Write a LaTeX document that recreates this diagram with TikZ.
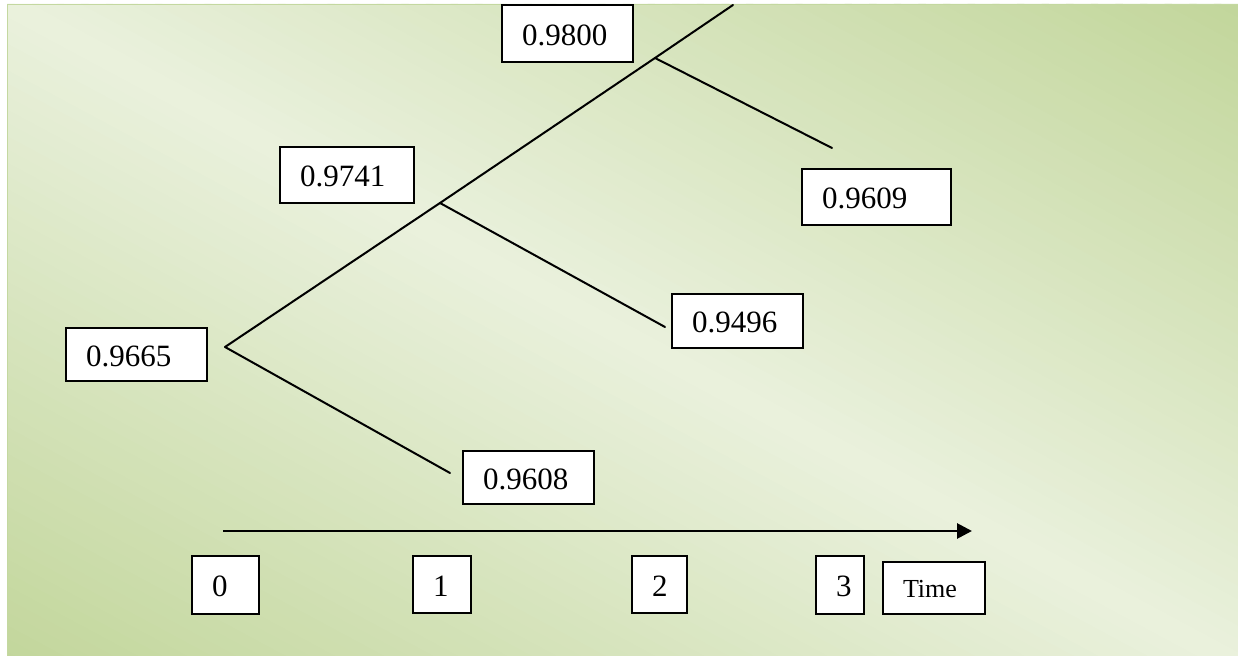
\documentclass[tikz,border=0pt]{standalone}
\usepackage{fontspec}
\setmainfont{Liberation Serif}
\usetikzlibrary{arrows.meta}
\definecolor{bgdark}{HTML}{C2D69B}
\definecolor{bglight}{HTML}{EAF1DD}
\definecolor{bgedge}{HTML}{C4D8A0}
\hfuzz=30pt
\hbadness=10000
\tikzset{
  valbox/.style={draw=black, fill=white, line width=0.85pt, anchor=north west,
    outer sep=0pt, inner xsep=10pt, inner ysep=0pt, align=left,
    text height=12pt, text depth=0pt,
    font=\fontsize{15.5}{18}\selectfont},
  timebox/.style={valbox, text height=10pt, font=\fontsize{13}{16}\selectfont},
  branch/.style={line width=1pt, line cap=round},
  axisline/.style={line width=1.4pt, -{Triangle[length=7.5pt,width=7.5pt]}}
}
\begin{document}
\begin{tikzpicture}[x=0.5pt, y=-0.5pt]
\useasboundingbox (0,0) rectangle (1238,656);
% background gradient
\begin{scope}
\clip (7,4) rectangle (1245,665);
\foreach \i in {0,...,99}{
  \pgfmathsetmacro\s{-1+\i*0.02}
  \pgfmathsetmacro\f{min(100,100*abs(\s+0.01))}
  \fill[bgdark!\f!bglight] ({7+1231*\s},4) -- ({7+1231*(\s+0.026)},4)
     -- ({7+1231*(\s+1.026)},665) -- ({7+1231*(\s+1)},665) -- cycle;
}
\end{scope}
\draw[bgedge, line width=0.8pt] (7.5,4.5) rectangle (1250,670);
% tree points
\coordinate (r) at (225,347);
\coordinate (a) at (440,203);
\coordinate (b) at (655,58);
\coordinate (top) at (733,5);
\coordinate (e1) at (450,473);
\coordinate (e2) at (665,327);
\coordinate (e3) at (832,148);
\draw[branch] (r) -- (a) -- (b) -- (top);
\draw[branch] (r) -- (e1);
\draw[branch] (a) -- (e2);
\draw[branch] (b) -- (e3);
% value boxes
\node[valbox, text width=45.5pt, minimum height=28.5pt] (n9800) at (502,5) {0.9800};
\node[valbox, text width=47pt, minimum height=28pt] (n9741) at (280,147) {0.9741};
\node[valbox, text width=54.5pt, minimum height=28pt] (n9609) at (802,169) {0.9609};
\node[valbox, text width=45.5pt, minimum height=27pt] (n9496) at (672,294) {0.9496};
\node[valbox, text width=50.5pt, minimum height=26.5pt] (n9665) at (66,328) {0.9665};
\node[valbox, text width=45.5pt, minimum height=26.5pt] (n9608) at (463,451) {0.9608};
% time axis
\coordinate (ax0) at (223,531);
\coordinate (ax1) at (972,531);
\draw[axisline] (ax0) -- (ax1);
\node[valbox, text width=13.5pt, minimum height=29pt] (t0) at (192,556) {0};
\node[valbox, text width=9pt, minimum height=28.5pt] (t1) at (413,556) {1};
\node[valbox, text width=7.5pt, minimum height=28.5pt] (t2) at (632,556) {2};
\node[valbox, text width=4pt, minimum height=29pt] (t3) at (816,556) {3};
\node[timebox, text width=31pt, minimum height=26pt] (ttime) at (883,562) {Time};
\end{tikzpicture}
\end{document}
